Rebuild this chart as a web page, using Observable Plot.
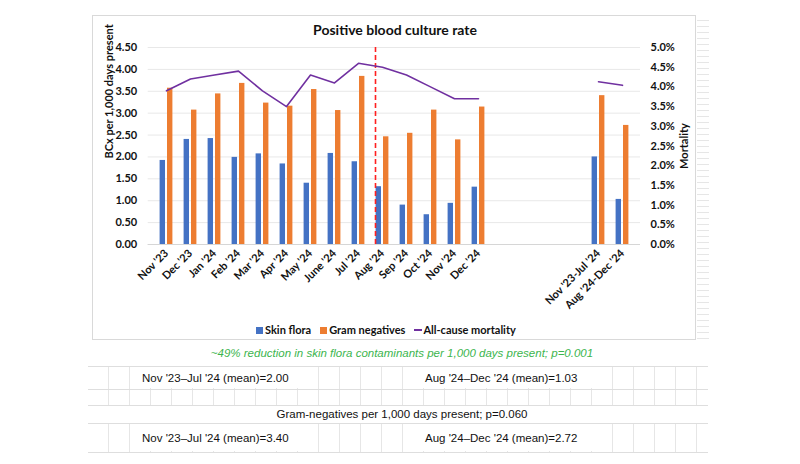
<!DOCTYPE html>
<html>
<head>
<meta charset="utf-8">
<script src="https://cdn.jsdelivr.net/npm/d3@7"></script>
<script src="https://cdn.jsdelivr.net/npm/@observablehq/plot@0.6"></script>
<style>
  html, body { margin: 0; padding: 0; background: #fff; }
  body { width: 800px; height: 464px; position: relative; overflow: hidden; font-family: Lato, "Open Sans", sans-serif; }
  #box { position: absolute; left: 92px; top: 15px; width: 604px; height: 325px; border: 1px solid #d9d9d9; box-sizing: border-box; }
  #sideGrid { position: absolute; left: 697px; top: 15px; width: 12px; height: 325px;
    background: repeating-linear-gradient(to bottom, transparent 0 5px, #e6e6e6 5px 6px); }
  #title { position: absolute; left: 0; width: 790px; top: 21px; text-align: center; font-weight: bold; font-size: 14px; color: #111; }
  #chart { position: absolute; left: 0; top: 0; }
  #legend { position: absolute; left: 256px; top: 323px; font-size: 11px; font-weight: bold; color: #111; white-space: nowrap; }
  #legend span.item { display: inline-block; margin-right: 9px; }
  #legend .sw { display: inline-block; width: 7px; height: 7px; margin-right: 2px; vertical-align: 0px; }
  #legend .ln { display: inline-block; width: 8px; height: 2px; margin-right: 1px; vertical-align: 3px; background: #7030A0; }
  .row { position: absolute; left: 88px; width: 620px; border-bottom: 1px solid #dedede; box-sizing: border-box; }
  .grid { background: repeating-linear-gradient(to right, transparent 0 20px, #e6e6e6 20px 21px); }
  .cell { position: absolute; top: 0; bottom: 1px; background: #fff; font-family: "Liberation Sans", Arial, sans-serif; font-size: 11.5px; color: #111; white-space: nowrap; display: flex; align-items: center; }
  .center { left: 0; right: 0; justify-content: center; }
  #green { color: #3cb54e; font-style: italic; }
</style>
</head>
<body>
<div id="box"></div>
<div id="sideGrid"></div>
<div id="title">Positive blood culture rate</div>
<div id="chart"></div>
<div id="legend"></div>

<div class="row" style="top:340px;height:27px;"><div class="cell center" style="padding-left:8px;"><span id="green"></span></div></div>
<div class="row grid" style="top:367px;height:23px;">
  <div class="cell" id="t1" style="left:42px;width:168px;padding-left:12px;box-sizing:border-box;"></div>
  <div class="cell" id="t2" style="left:335px;width:169px;padding-left:2px;box-sizing:border-box;"></div>
</div>
<div class="row grid" style="top:390px;height:16px;"></div>
<div class="row" style="top:406px;height:18px;"><div class="cell center" style="padding-left:8px;" id="t3"></div></div>
<div class="row grid" style="top:424px;height:29px;">
  <div class="cell" id="t4" style="left:42px;width:168px;padding-left:12px;box-sizing:border-box;"></div>
  <div class="cell" id="t5" style="left:335px;width:169px;padding-left:2px;box-sizing:border-box;"></div>
</div>

<script>
// ---- Data ----
const months = ["Nov '23","Dec '23","Jan '24","Feb '24","Mar '24","Apr '24","May '24","June '24","Jul '24","Aug '24","Sep '24","Oct '24","Nov '24","Dec '24"];
const gaps = ["gap1","gap2","gap3","gap4"];
const summaryLabels = ["Nov '23-Jul '24","Aug '24-Dec '24"];
const skinFlora = [1.92,2.40,2.42,1.99,2.07,1.84,1.40,2.08,1.89,1.32,0.90,0.68,0.94,1.31];
const gramNegatives = [3.57,3.07,3.44,3.68,3.23,3.16,3.54,3.06,3.84,2.46,2.54,3.07,2.39,3.14];
const mortalityPct = [3.9,4.2,4.3,4.4,3.9,3.5,4.3,4.1,4.6,4.5,4.3,4.0,3.7,3.7];
const summarySkin = [2.00,1.03];
const summaryGram = [3.40,2.72];
const summaryMortalityPct = [4.13,4.04];
const leftTicks = [0,0.5,1,1.5,2,2.5,3,3.5,4,4.5];
const rightTickPct = [0,0.5,1,1.5,2,2.5,3,3.5,4,4.5,5];
const seriesNames = ["Skin flora","Gram negatives","All-cause mortality"];
const seriesColors = ["#4472C4","#ED7D31","#7030A0"];
const titleText = "Positive blood culture rate";
const yLabel = "BCx per 1,000 days present";
const y2Label = "Mortality";
const greenNote = "~49% reduction in skin flora contaminants per 1,000 days present; p=0.001";
const skinMeanTexts = ["Nov '23\u2013Jul '24 (mean)=2.00","Aug '24\u2013Dec '24 (mean)=1.03"];
const gramNote = "Gram-negatives per 1,000 days present; p=0.060";
const gramMeanTexts = ["Nov '23\u2013Jul '24 (mean)=3.40","Aug '24\u2013Dec '24 (mean)=2.72"];
const interventionMonth = "Aug '24";

// ---- Build ----
const k = 4.5 / 5; // left units per percent on the right axis
const domain = [...months, ...gaps, ...summaryLabels];
const rows = months.map((m, i) => ({cat: m, skin: skinFlora[i], gram: gramNegatives[i]}))
  .concat(summaryLabels.map((m, i) => ({cat: m, skin: summarySkin[i], gram: summaryGram[i]})));
const monthLine = months.map((m, i) => ({cat: m, v: mortalityPct[i] * k}));
const sumLine = summaryLabels.map((m, i) => ({cat: m, v: summaryMortalityPct[i] * k}));

const chart = Plot.plot({
  width: 800,
  height: 340,
  marginLeft: 147.7,
  marginRight: 160,
  marginTop: 47,
  marginBottom: 96,
  style: {background: "transparent", fontFamily: "Lato, 'Open Sans', sans-serif", fontSize: "11px", fontWeight: "bold", color: "#111", overflow: "visible"},
  x: {type: "band", domain, padding: 0},
  y: {domain: [0, 4.5]},
  marks: [
    Plot.gridY(leftTicks, {stroke: "#e8e8e8", strokeOpacity: 1}),
    Plot.ruleY([0], {stroke: "#d6d6d6"}),
    Plot.barY(rows, {x: "cat", y: "skin", fill: seriesColors[0], insetLeft: 5.6, insetRight: 13}),
    Plot.barY(rows, {x: "cat", y: "gram", fill: seriesColors[1], insetLeft: 13, insetRight: 5.6}),
    Plot.ruleX([interventionMonth], {y1: 0, y2: 4.5, dx: -7, stroke: "#ff2020", strokeWidth: 1.6, strokeDasharray: "5,3"}),
    Plot.line(monthLine, {x: "cat", y: "v", stroke: seriesColors[2], strokeWidth: 1.6}),
    Plot.line(sumLine, {x: "cat", y: "v", stroke: seriesColors[2], strokeWidth: 1.6}),
    Plot.axisY({ticks: leftTicks, tickFormat: d => d.toFixed(2), tickSize: 0, tickPadding: 11, label: null}),
    Plot.axisY({anchor: "right", ticks: rightTickPct.map(p => p * k), tickFormat: d => (d / k).toFixed(1) + "%", tickSize: 0, tickPadding: 10, label: y2Label, labelAnchor: "center", labelOffset: 47, labelArrow: "none"}),
    Plot.axisX({ticks: [...months, ...summaryLabels], tickRotate: -45, tickSize: 0, tickPadding: 7, label: null}),
    Plot.text([yLabel], {frameAnchor: "left", dx: -39, dy: 12.5, rotate: -90, fontWeight: "bold", fontSize: 11})
  ]
});
document.getElementById("chart").appendChild(chart);

document.getElementById("title").textContent = titleText;
const lg = document.getElementById("legend");
seriesNames.forEach((n, i) => {
  const it = document.createElement("span");
  it.className = "item";
  const sw = document.createElement("span");
  if (i < 2) { sw.className = "sw"; sw.style.background = seriesColors[i]; }
  else { sw.className = "ln"; }
  it.appendChild(sw);
  it.appendChild(document.createTextNode(n));
  lg.appendChild(it);
});
document.getElementById("green").textContent = greenNote;
document.getElementById("t1").textContent = skinMeanTexts[0];
document.getElementById("t2").textContent = skinMeanTexts[1];
document.getElementById("t3").textContent = gramNote;
document.getElementById("t4").textContent = gramMeanTexts[0];
document.getElementById("t5").textContent = gramMeanTexts[1];
</script>
</body>
</html>
